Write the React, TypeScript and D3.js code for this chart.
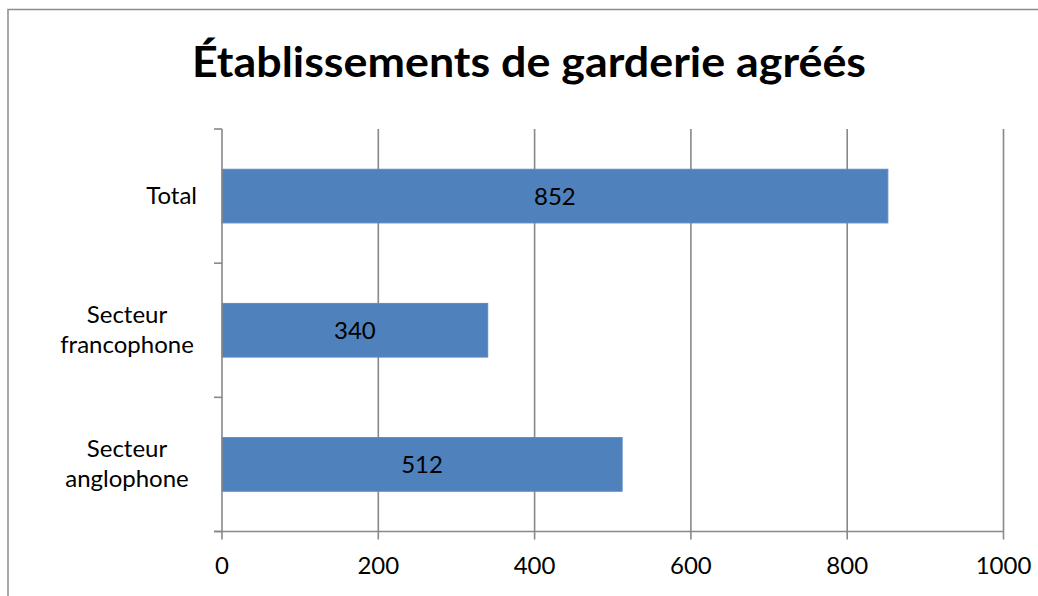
import React from "react";
import * as d3 from "d3";

const categories: string[][] = [["Total"], ["Secteur", "francophone"], ["Secteur", "anglophone"]];
const values: number[] = [852, 340, 512];
const xTicks: number[] = [0, 200, 400, 600, 800, 1000];
const title = "Établissements de garderie agréés";

export default function App() {
  const W = 1038, H = 596;
  const left = 222, right = 1003.5, top = 129, bottom = 531.5;
  const x = d3.scaleLinear().domain([0, 1000]).range([left, right]);
  const y = d3.scaleBand<number>().domain(d3.range(categories.length)).range([top, bottom]).paddingInner(0.6).paddingOuter(0.3);
  const band = d3.scaleBand<number>().domain(d3.range(categories.length)).range([top, bottom]);
  const font = "Lato, 'Open Sans', sans-serif";
  const grid = "#888888";
  return (
    <div style={{ position: "absolute", left: 0, top: 0 }}>
      <svg width={W} height={H} style={{ display: "block" }}>
        <rect x={0} y={0} width={W} height={H} fill="#fff" />
        <rect x={8} y={9.5} width={W + 20} height={H + 20} fill="none" stroke="#8c8c8c" strokeWidth={1.5} />
        <text x={529} y={77} textAnchor="middle" fontFamily={font} fontWeight="bold" fontSize={42} textLength={674} lengthAdjust="spacingAndGlyphs" fill="#000">{title}</text>
        {xTicks.map((t) => (
          <g key={t}>
            {t > 0 && <line x1={x(t)} x2={x(t)} y1={top} y2={bottom} stroke={grid} strokeWidth={1.6} />}
            <line x1={x(t)} x2={x(t)} y1={bottom} y2={bottom + 8} stroke={grid} strokeWidth={1.6} />
            <text x={x(t)} y={574} textAnchor="middle" fontFamily={font} fontSize={24} fill="#000">{t}</text>
          </g>
        ))}
        {categories.map((c, i) => (
          <g key={i}>
            <rect x={x(0)} y={y(i)!} width={x(values[i]) - x(0)} height={y.bandwidth()} fill="#4f81bd" stroke="#5b8ac4" strokeWidth={1} />
            <text x={(x(0) + x(values[i])) / 2} y={y(i)! + y.bandwidth() / 2 + 9} textAnchor="middle" fontFamily={font} fontSize={24} fill="#000">{values[i]}</text>
            {c.map((line, j) => (
              <text key={j} x={c.length === 1 ? 197 : 127} y={band(i)! + band.bandwidth() / 2 + 8 + (j - (c.length - 1) / 2) * 30} textAnchor={c.length === 1 ? "end" : "middle"} fontFamily={font} fontSize={24} fill="#000">{line}</text>
            ))}
          </g>
        ))}
        {d3.range(categories.length + 1).map((i) => {
          const yy = i < categories.length ? band(i)! : bottom;
          return <line key={i} x1={left - 8} x2={left} y1={yy} y2={yy} stroke={grid} strokeWidth={1.6} />;
        })}
        <line x1={left} x2={left} y1={top} y2={bottom} stroke={grid} strokeWidth={1.6} />
        <line x1={left - 8} x2={right} y1={bottom} y2={bottom} stroke={grid} strokeWidth={1.6} />
      </svg>
    </div>
  );
}
